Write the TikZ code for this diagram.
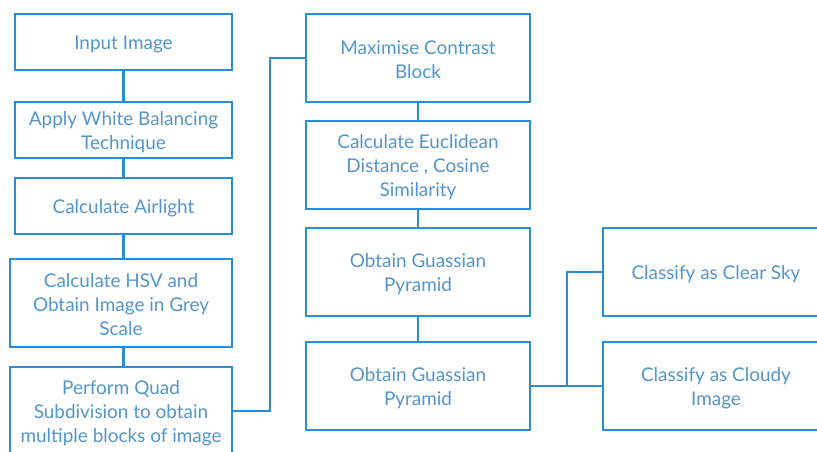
\documentclass[tikz,border=0pt]{standalone}
\usepackage{fontspec}
\setmainfont{Lato}
\definecolor{boxblue}{RGB}{43,141,216}
\definecolor{txtblue}{RGB}{84,150,204}
\newcommand\topstrut{\rule{0pt}{13.2pt}}
\tikzset{
  stepbox/.style={draw=boxblue, line width=2.2pt, fill=white, align=center,
    text=txtblue, font=\fontsize{14.2}{18}\selectfont, inner sep=0pt},
  link/.style={draw=boxblue, line width=2.2pt}
}
\begin{document}
\begin{tikzpicture}[x=0.75pt,y=-0.75pt]
\useasboundingbox (0,0) rectangle (817,452);
\clip (0,0) rectangle (817,452);
\fill[white] (0,0) rectangle (817,452);
% left column
\node[stepbox, minimum width=217*0.75pt, minimum height=56*0.75pt] (in) at (123.5,42) {\topstrut Input Image};
\node[stepbox, minimum width=217*0.75pt, minimum height=56*0.75pt] (wb) at (123.5,130) {\topstrut Apply White Balancing\\Technique};
\node[stepbox, minimum width=217*0.75pt, minimum height=56*0.75pt] (air) at (123.5,206) {\topstrut Calculate Airlight};
\node[stepbox, minimum width=222*0.75pt, minimum height=88*0.75pt] (hsv) at (121,303) {\topstrut Calculate HSV and\\Obtain Image in Grey\\Scale};
\node[stepbox, minimum width=222*0.75pt, minimum height=88*0.75pt] (quad) at (121,411) {\topstrut Perform Quad\\Subdivision to obtain\\multiple blocks of image};
% middle column
\node[stepbox, minimum width=224*0.75pt, minimum height=88*0.75pt] (max) at (418,58) {\topstrut Maximise Contrast\\Block};
\node[stepbox, minimum width=224*0.75pt, minimum height=88*0.75pt] (euc) at (418,165) {\topstrut Calculate Euclidean\\Distance , Cosine\\Similarity};
\node[stepbox, minimum width=224*0.75pt, minimum height=88*0.75pt] (g1) at (418,272) {\topstrut Obtain Guassian\\Pyramid};
\node[stepbox, minimum width=224*0.75pt, minimum height=88*0.75pt] (g2) at (418,386) {\topstrut Obtain Guassian\\Pyramid};
% right column
\node[stepbox, minimum width=226*0.75pt, minimum height=88*0.75pt] (clear) at (716,272) {\topstrut Classify as Clear Sky};
\node[stepbox, minimum width=226*0.75pt, minimum height=88*0.75pt] (cloudy) at (716,386) {\topstrut Classify as Cloudy\\Image};
% junctions
\coordinate (j1) at (270,411);
\coordinate (j2) at (567,386);
% connectors
\draw[link] (in.south) -- (wb.north);
\draw[link] (wb.south) -- (air.north);
\draw[link] (air.south) -- (air.south |- hsv.north);
\draw[link] (hsv.south -| air.south) -- (quad.north -| air.south);
\draw[link] (quad.east) -- (j1) |- (max.west);
\draw[link] (max.south) -- (euc.north);
\draw[link] (euc.south) -- (g1.north);
\draw[link] (g1.south) -- (g2.north);
\draw[link] (g2.east) -- (cloudy.west);
\draw[link] (j2) |- (clear.west);
\end{tikzpicture}
\end{document}
